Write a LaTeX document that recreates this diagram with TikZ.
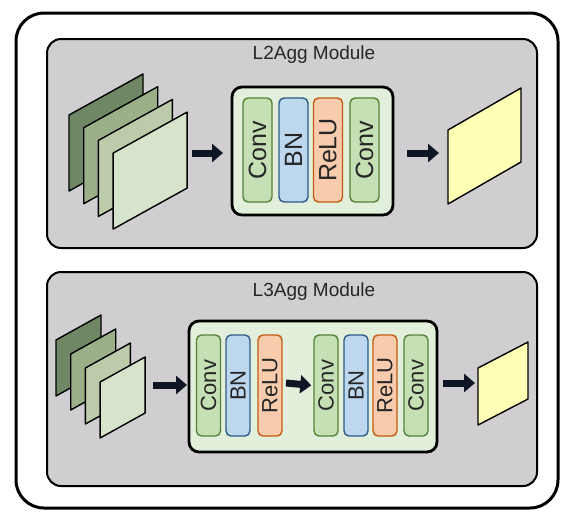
\documentclass[tikz,border=0pt]{standalone}
\usepackage{fontspec}
\setmainfont{Liberation Sans}
\usetikzlibrary{arrows.meta}

\definecolor{panelgray}{HTML}{D0CED0}
\definecolor{blockgreen}{HTML}{E2EFDA}
\definecolor{convfill}{HTML}{C5E0B4}
\definecolor{convdraw}{HTML}{548235}
\definecolor{bnfill}{HTML}{BDD7EE}
\definecolor{bndraw}{HTML}{2E5A88}
\definecolor{relufill}{HTML}{F8CBAD}
\definecolor{reludraw}{HTML}{C55A11}
\definecolor{featA}{HTML}{6F8764}
\definecolor{featB}{HTML}{9BB088}
\definecolor{featC}{HTML}{BCCBAA}
\definecolor{featD}{HTML}{D7E4CC}
\definecolor{outyellow}{HTML}{FFFFB5}
\definecolor{arrownavy}{HTML}{0E1626}

\tikzset{
  panel/.style={draw, line width=2pt, rounded corners=14pt, fill=panelgray},
  block/.style={draw, line width=2.8pt, rounded corners=10pt, fill=blockgreen},
  layer/.style={draw, line width=1.4pt, rounded corners=5pt, rotate=90,
    inner sep=0pt, text=black!85},
  conv/.style={layer, fill=convfill, draw=convdraw},
  bn/.style={layer, fill=bnfill, draw=bndraw},
  relu/.style={layer, fill=relufill, draw=reludraw},
  plane/.style={draw, line width=1.4pt, line join=round},
  fatarrow/.style={draw=arrownavy, line width=7pt,
    -{Triangle[length=11pt, width=18pt]}},
  title/.style={font=\fontsize{19}{19}\selectfont, text=black!85},
}

\begin{document}
\begin{tikzpicture}[x=1pt, y=-1pt]
  \useasboundingbox (0,0) rectangle (573,523);

  % outer frame
  \draw[line width=3pt, rounded corners=28pt] (16,13) rectangle (558,508);

  % ---------------- L2Agg ----------------
  \draw[panel] (47,39) rectangle (537,248);
  \node[title] (titleA) at (314,55) {L2Agg Module};

  % input feature stack
  \foreach \i/\c in {0/featA,1/featB,2/featC,3/featD}
    \draw[plane, fill=\c] (69+14.7*\i,115+12.7*\i) -- ++(74,-41) -- ++(0,76)
      -- ++(-74,41) -- cycle;

  % aggregation block
  \node[block, minimum width=161pt, minimum height=128pt] (blockA) at (312.5,151) {};
  \begin{scope}[every node/.append style={minimum width=104pt, minimum height=29pt,
      font=\fontsize{25}{25}\selectfont}]
    \node[conv] (convA1) at (257.5,150) {Conv};
    \node[bn]   (bnA)    at (293.5,150) {BN};
    \node[relu] (reluA)  at (328,150)   {ReLU};
    \node[conv] (convA2) at (364.5,150) {Conv};
  \end{scope}

  % output map
  \draw[plane, fill=outyellow] (448,130) -- ++(73,-42) -- ++(0,74)
    -- ++(-73,42) -- cycle;

  \coordinate (inA)  at (192,153);
  \coordinate (toA)  at (223,153);
  \coordinate (outA) at (407,153);
  \coordinate (resA) at (439,153);
  \draw[fatarrow] (inA) -- (toA);
  \draw[fatarrow] (outA) -- (resA);

  % ---------------- L3Agg ----------------
  \draw[panel] (47,272) rectangle (537,486);
  \node[title] (titleB) at (314,292) {L3Agg Module};

  % input feature stack
  \foreach \i/\c in {0/featA,1/featB,2/featC,3/featD}
    \draw[plane, fill=\c] (56+14.7*\i,340+14*\i) -- ++(45,-25) -- ++(0,56)
      -- ++(-45,25) -- cycle;

  % aggregation block
  \node[block, minimum width=248pt, minimum height=131pt] (blockB) at (313,386.5) {};
  \begin{scope}[every node/.append style={minimum width=101pt, minimum height=24pt,
      font=\fontsize{22}{22}\selectfont}]
    \node[conv] (convB1) at (208.5,385.5) {Conv};
    \node[bn]   (bnB1)   at (238,385.5)   {BN};
    \node[relu] (reluB1) at (270,385.5)   {ReLU};
    \node[conv] (convB2) at (326,385.5)   {Conv};
    \node[bn]   (bnB2)   at (356,385.5)   {BN};
    \node[relu] (reluB2) at (385,385.5)   {ReLU};
    \node[conv] (convB3) at (416,385.5)   {Conv};
  \end{scope}

  % output map
  \draw[plane, fill=outyellow] (478,368) -- ++(50,-26) -- ++(0,57)
    -- ++(-50,26) -- cycle;

  \coordinate (inB)  at (153,385);
  \coordinate (toB)  at (187,385);
  \coordinate (midB) at (286,383);
  \coordinate (resB) at (443,383);
  \coordinate (endB) at (475,383);
  \draw[fatarrow] (inB) -- (toB);
  \draw[fatarrow, shorten >=2pt] (midB) -- (convB2.north);
  \draw[fatarrow] (resB) -- (endB);
\end{tikzpicture}
\end{document}
